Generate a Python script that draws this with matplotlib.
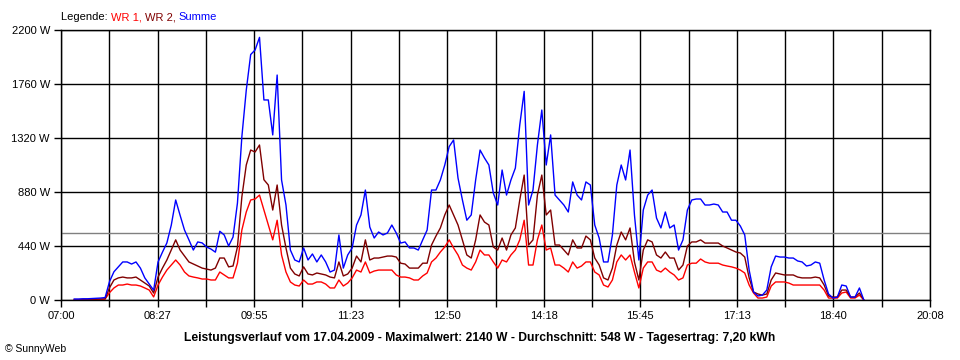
import numpy as np
import matplotlib
matplotlib.use("Agg")
import matplotlib.pyplot as plt

# ---- data (power in W), sampled every 4 minutes starting 07:12 ----
start_minute = 7 * 60 + 12
step_minutes = 4

summe = [
    8, 8, 10, 10, 12, 14, 16, 20, 150, 230,
    270, 310, 310, 293, 310, 260, 180, 130, 80, 310,
    390, 465, 610, 815, 690, 570, 490, 407, 473, 465,
    432, 415, 390, 560, 530, 440, 513, 790, 1330, 1710,
    2000, 2037, 2140, 1630, 1630, 1345, 1833, 978, 774, 407,
    326, 310, 424, 326, 375, 310, 367, 310, 228, 244,
    530, 260, 367, 424, 611, 693, 896, 595, 505, 554,
    530, 546, 611, 546, 464, 473, 424, 424, 407, 490,
    570, 896, 896, 978, 1100, 1250, 1304, 994, 815, 650,
    693, 978, 1222, 1157, 1100, 872, 774, 1059, 855, 978,
    1075, 1426, 1700, 774, 896, 1263, 1548, 1100, 1345, 855,
    815, 774, 717, 962, 855, 815, 962, 937, 611, 505,
    310, 310, 530, 937, 1100, 978, 1222, 693, 326, 733,
    855, 896, 668, 587, 717, 587, 611, 407, 490, 733,
    815, 823, 823, 774, 774, 782, 774, 717, 717, 650,
    650, 603, 530, 244, 65, 33, 40, 81, 270, 358,
    350, 350, 342, 342, 318, 310, 277, 285, 310, 300,
    163, 49, 16, 24, 122, 114, 24, 24, 98, 0,
]

wr2 = [
    3, 3, 4, 4, 5, 6, 7, 8, 100, 163,
    180, 187, 180, 180, 187, 163, 138, 114, 57, 187,
    260, 326, 407, 490, 407, 358, 310, 293, 277, 260,
    252, 244, 260, 342, 342, 270, 277, 432, 840, 1100,
    1222, 1206, 1263, 980, 937, 733, 937, 611, 424, 260,
    212, 196, 270, 212, 204, 220, 212, 204, 187, 180,
    310, 196, 212, 260, 358, 310, 490, 326, 342, 342,
    350, 358, 358, 350, 300, 293, 260, 260, 260, 300,
    300, 448, 521, 587, 693, 774, 693, 611, 490, 367,
    342, 490, 693, 635, 611, 432, 407, 505, 407, 530,
    587, 815, 1018, 448, 490, 855, 1018, 693, 733, 448,
    448, 407, 367, 490, 424, 424, 521, 490, 342, 285,
    180, 163, 260, 448, 554, 490, 587, 310, 163, 407,
    490, 473, 367, 342, 391, 342, 342, 244, 285, 440,
    473, 473, 490, 464, 464, 464, 464, 440, 424, 407,
    391, 383, 350, 180, 65, 49, 40, 49, 163, 220,
    212, 204, 204, 204, 187, 180, 180, 180, 187, 180,
    122, 33, 24, 24, 81, 81, 24, 24, 57, 0,
]

wr1 = [
    3, 3, 4, 4, 5, 6, 7, 8, 60, 98,
    122, 122, 130, 122, 122, 114, 98, 81, 25, 122,
    187, 244, 285, 326, 285, 228, 196, 187, 180, 171,
    171, 163, 163, 228, 204, 180, 180, 300, 570, 717,
    815, 823, 855, 733, 611, 490, 650, 367, 228, 147,
    122, 114, 163, 130, 130, 147, 147, 130, 98, 98,
    163, 114, 138, 180, 244, 228, 310, 220, 236, 244,
    244, 244, 244, 204, 187, 187, 180, 163, 163, 196,
    220, 310, 342, 391, 432, 490, 424, 367, 285, 260,
    244, 310, 407, 367, 367, 310, 260, 326, 310, 367,
    407, 490, 650, 285, 285, 490, 611, 407, 424, 285,
    285, 260, 228, 310, 260, 277, 310, 310, 228, 204,
    122, 106, 163, 310, 367, 326, 367, 228, 98, 260,
    310, 310, 244, 228, 260, 228, 204, 163, 180, 285,
    300, 300, 334, 310, 300, 300, 300, 285, 277, 270,
    260, 244, 220, 122, 57, 16, 16, 24, 114, 147,
    147, 147, 138, 122, 122, 122, 122, 122, 122, 122,
    81, 16, 16, 16, 57, 65, 16, 16, 40, 0,
]

average_w = 548
y_ticks = [0, 440, 880, 1320, 1760, 2200]
x_tick_labels = ["07:00", "08:27", "09:55", "11:23", "12:50",
                 "14:18", "15:45", "17:13", "18:40", "20:08"]
x_start, x_end = 7 * 60, 20 * 60 + 8

title_text = ("Leistungsverlauf vom 17.04.2009 - Maximalwert: 2140 W - "
              "Durchschnitt: 548 W - Tagesertrag: 7,20 kWh")

# ---- drawing ----
plt.rcParams['font.family'] = ['Liberation Sans', 'DejaVu Sans']
fig = plt.figure(figsize=(9.6, 3.6), dpi=100)
ax = fig.add_axes([61 / 960, 1 - 300 / 360, 869 / 960, 270 / 360])

t = start_minute + step_minutes * np.arange(len(summe))

ax.set_xlim(x_start, x_end)
ax.set_ylim(0, 2200)

minor = np.linspace(x_start, x_end, 19)
ax.set_xticks(minor)
ax.set_xticklabels([x_tick_labels[i // 2] if i % 2 == 0 else "" for i in range(19)])
ax.set_yticks(y_ticks)
ax.set_yticklabels([f"{v} W" for v in y_ticks])

ax.grid(True, color="black", linewidth=1.0, zorder=1)
ax.set_axisbelow(True)
for s in ax.spines.values():
    s.set_color("black")
    s.set_linewidth(1.0)
ax.tick_params(axis="both", length=5, width=1, color="black", labelsize=8, pad=3)

ax.axhline(average_w, color="#808080", linewidth=1.0, zorder=2)

ax.plot(t, wr1, color="#FF0000", linewidth=1.0, zorder=3)
ax.plot(t, wr2, color="#800000", linewidth=1.0, zorder=4)
ax.plot(t, summe, color="#0000FF", linewidth=1.0, zorder=5)

# legend line at top
fig.canvas.draw()
renderer = fig.canvas.get_renderer()
x0 = 61
parts = [("Legende: ", "black"), ("WR 1, ", "#FF0000"), ("WR 2, ", "#800000"), ("Summe", "#0000FF")]
for txt, col in parts:
    tt = fig.text(x0 / 960, 1 - 17 / 360, txt, color=col, fontsize=8, va="center", ha="left")
    bb = tt.get_window_extent(renderer=renderer)
    x0 += bb.width

fig.text(480 / 960, 1 - 338 / 360, title_text, fontsize=8.7, fontweight="bold",
         ha="center", va="center")
fig.text(5 / 960, 1 - 349 / 360, "\u00a9 SunnyWeb", fontsize=7.5, ha="left", va="center")

fig.savefig("out.png", dpi=100, facecolor="white")
